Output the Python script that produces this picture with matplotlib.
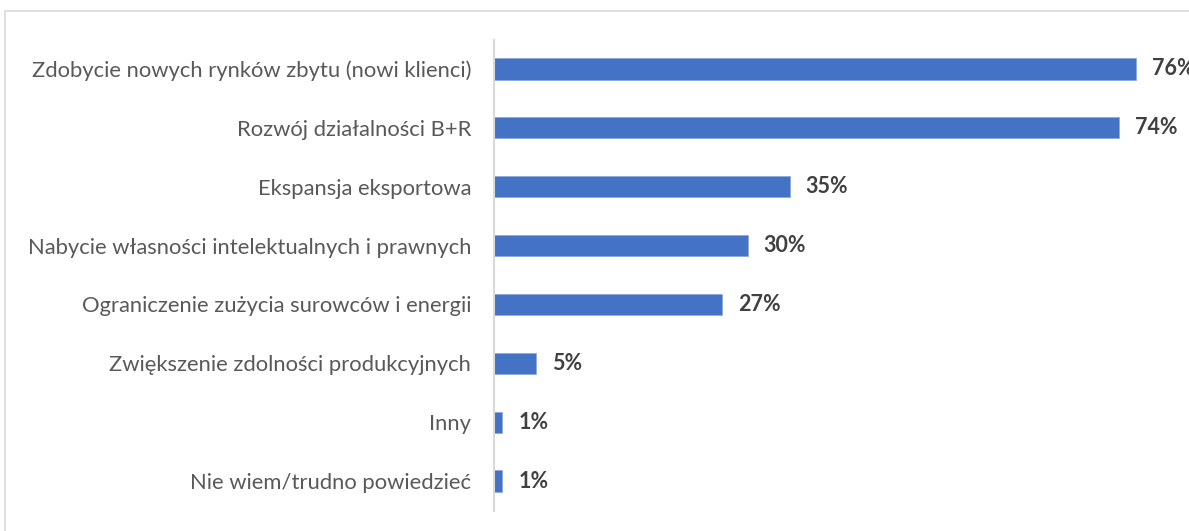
import matplotlib.pyplot as plt
from matplotlib.patches import Rectangle

categories = [
    "Zdobycie nowych rynków zbytu (nowi klienci)",
    "Rozwój działalności B+R",
    "Ekspansja eksportowa",
    "Nabycie własności intelektualnych i prawnych",
    "Ograniczenie zużycia surowców i energii",
    "Zwiększenie zdolności produkcyjnych",
    "Inny",
    "Nie wiem/trudno powiedzieć",
]
values = [76, 74, 35, 30, 27, 5, 1, 1]

BAR_COLOR = "#4472C4"
LABEL_COLOR = "#595959"
VALUE_COLOR = "#404040"
GRID_COLOR = "#D9D9D9"

plt.rcParams["font.family"] = ["Lato", "DejaVu Sans"]

fig = plt.figure(figsize=(11.89, 5.31), dpi=100)
ax = fig.add_axes([0.4155, 0.0386, 0.984 - 0.4155, 0.9256 - 0.0386])

# outer chart frame (runs off the right and bottom edges)
fig.patches.append(Rectangle((4.5 / 1189, -0.1), 1.2, 1.1 - 11.5 / 531,
                             transform=fig.transFigure, fill=False,
                             edgecolor=GRID_COLOR, linewidth=1.2))

y = list(range(len(categories)))
ax.barh(y, values, height=0.36, color=BAR_COLOR, edgecolor="#8FAADC", linewidth=0.6)

for yi, v in zip(y, values):
    ax.text(v + 1.9, yi, f"{v}%", va="center", ha="left",
            fontsize=15.5, fontweight="bold", color=VALUE_COLOR)

ax.set_yticks(y)
ax.set_yticklabels(categories, fontsize=15.8, color=LABEL_COLOR)
ax.tick_params(axis="y", length=0, pad=16.5)
ax.set_ylim(len(categories) - 0.5, -0.5)
ax.set_xlim(0, 80)
ax.set_xticks([])

for side in ["top", "right", "bottom"]:
    ax.spines[side].set_visible(False)
ax.spines["left"].set_color(GRID_COLOR)
ax.spines["left"].set_linewidth(1.5)

fig.savefig("out.png", dpi=100)
